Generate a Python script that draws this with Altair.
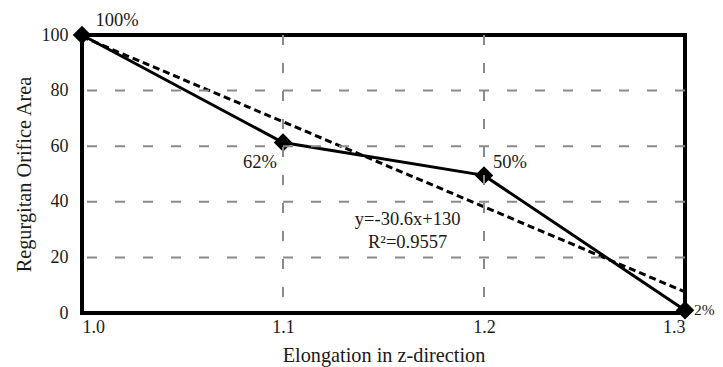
import altair as alt
import pandas as pd

elong = [1.0, 1.1, 1.2, 1.3]
area = [100, 61.3, 49.5, 1.0]
pct_labels = ["100%", "62%", "50%", "2%"]
label_dx = [35, -23, 26, 9]
label_dy = [-15, 19, -13, 0]
label_align = ["center", "center", "center", "left"]
label_size = [18.5, 18.5, 18.5, 15.5]

trend_x = [1.0, 1.3]
trend_y = [99.4, 7.6]

eq_x = [1.162, 1.162]
eq_y = [33.8, 25.5]
eq_text = ["y=-30.6x+130", "R²=0.9557"]

x_ticks = [1.0, 1.1, 1.2, 1.3]
y_ticks = [0, 20, 40, 60, 80, 100]
x_grid = [1.1, 1.2]
y_grid = [20, 40, 60, 80]

FONT = "Liberation Serif"
FS = 18.5
TFS = 20.3
TXT = "#1a1a1a"

df = pd.DataFrame({"x": elong, "y": area, "label": pct_labels})
tdf = pd.DataFrame({"x": trend_x, "y": trend_y})
edf = pd.DataFrame({"x": eq_x, "y": eq_y, "t": eq_text})
xgdf = pd.DataFrame({"x": x_grid})
ygdf = pd.DataFrame({"y": y_grid})

xs = alt.Scale(domain=[1.0, 1.3], nice=False, zero=False)
ys = alt.Scale(domain=[0, 100], nice=False)

xax = alt.Axis(values=x_ticks, format=".1f", title="Elongation in z-direction",
               grid=False, ticks=False, domain=False, labelPadding=5, titlePadding=9,
               labelFontSize=18, titleFontSize=TFS, labelFont=FONT, titleFont=FONT,
               labelColor=TXT, titleColor=TXT, titleFontWeight="normal")
yax = alt.Axis(values=y_ticks, format="d", title="Regurgitan Orifice Area",
               grid=False, ticks=False, domain=False, labelPadding=14, titlePadding=7,
               labelFontSize=18, titleFontSize=TFS, labelFont=FONT, titleFont=FONT,
               labelColor=TXT, titleColor=TXT, titleFontWeight="normal")

base = alt.Chart(df)

line = base.mark_line(color="black", strokeWidth=3).encode(
    x=alt.X("x:Q", scale=xs, axis=xax),
    y=alt.Y("y:Q", scale=ys, axis=yax),
)
pts = base.mark_point(shape="diamond", filled=True, color="black", size=340, opacity=1).encode(
    x=alt.X("x:Q", scale=xs), y=alt.Y("y:Q", scale=ys)
)
trend = alt.Chart(tdf).mark_line(color="black", strokeWidth=3, strokeDash=[7, 4]).encode(
    x=alt.X("x:Q", scale=xs), y=alt.Y("y:Q", scale=ys)
)
vgrid = alt.Chart(xgdf).mark_rule(color="#8a8a8a", strokeWidth=2, strokeDash=[10, 18]).encode(
    x=alt.X("x:Q", scale=xs)
)
hgrid = alt.Chart(ygdf).mark_rule(color="#8a8a8a", strokeWidth=2, strokeDash=[10, 18]).encode(
    y=alt.Y("y:Q", scale=ys)
)

labels = []
for i in range(len(elong)):
    sub = df.iloc[[i]]
    labels.append(
        alt.Chart(sub).mark_text(font=FONT, fontSize=label_size[i], color=TXT, align=label_align[i],
                                 dx=int(label_dx[i]), dy=int(label_dy[i])).encode(
            x=alt.X("x:Q", scale=xs), y=alt.Y("y:Q", scale=ys), text="label:N"
        )
    )

eq = alt.Chart(edf).mark_text(font=FONT, fontSize=FS, color=TXT).encode(
    x=alt.X("x:Q", scale=xs), y=alt.Y("y:Q", scale=ys), text="t:N"
)

chart = alt.layer(trend, line, pts, vgrid, hgrid, eq, *labels).properties(
    width=603, height=278,
    autosize=alt.AutoSizeParams(type="none"),
    padding={"left": 74, "top": 27, "right": 30, "bottom": 54},
).configure_view(stroke="black", strokeWidth=4)

chart.save("out.html", embed_options={"renderer": "svg", "actions": False})
